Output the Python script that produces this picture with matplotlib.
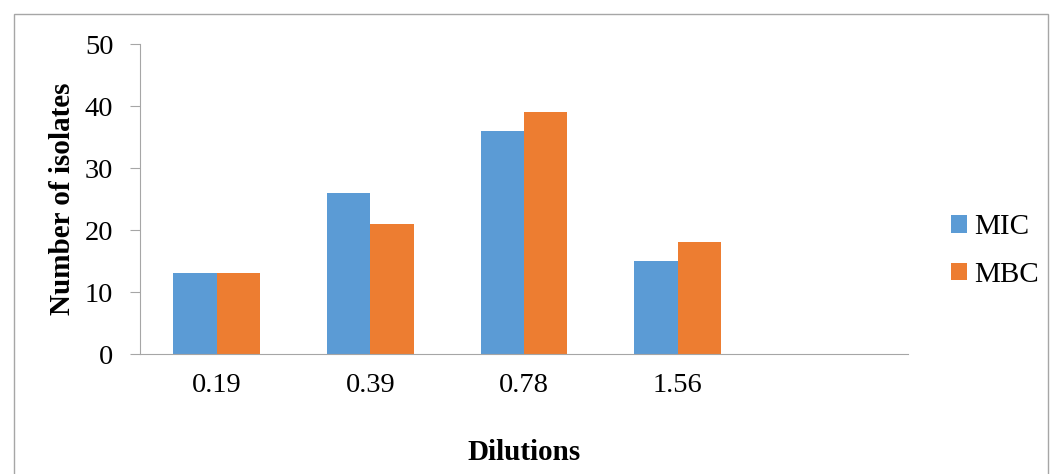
import matplotlib
matplotlib.use('Agg')
import matplotlib.pyplot as plt
import numpy as np
from matplotlib.patches import Rectangle

# data
dilutions = ['0.19', '0.39', '0.78', '1.56', '']
mic = [13, 26, 36, 15, 0]
mbc = [13, 21, 39, 18, 0]

plt.rcParams['font.family'] = ['Liberation Serif', 'DejaVu Serif']

fig = plt.figure(figsize=(10.6, 4.74), dpi=100)
ax = fig.add_axes([140/1060, 1-354/474, (908-140)/1060, (354-44)/474])

x = np.arange(len(dilutions))
w = 0.283
ax.bar(x - w/2, mic, w, color='#5B9BD5', label='MIC')
ax.bar(x + w/2, mbc, w, color='#ED7D31', label='MBC')

ax.set_xlim(-0.5, len(dilutions) - 0.5)
ax.set_ylim(0, 50)
ax.set_yticks(range(0, 51, 10))
ax.set_xticks(x[:4])
ax.set_xticklabels(dilutions[:4])
ax.tick_params(axis='x', length=0, labelsize=20.5, pad=14)
ax.tick_params(axis='y', length=7.2, color='#A6A6A6', labelsize=20.5, pad=12)
for s in ['top', 'right']:
    ax.spines[s].set_visible(False)
ax.spines['left'].set_color('#A6A6A6')
ax.spines['bottom'].set_color('#A6A6A6')

ax.set_ylabel('Number of isolates', fontsize=21, fontweight='bold', labelpad=6)
ax.set_xlabel('Dilutions', fontsize=21, fontweight='bold', labelpad=29)

ax.legend(loc='center left', bbox_to_anchor=(1.056, 0.332), frameon=False,
          fontsize=21, handlelength=0.55, handleheight=0.55, handletextpad=0.25,
          labelspacing=0.75, borderpad=0, borderaxespad=0)

fig.patches.append(Rectangle((14/1060, -0.01), 1034/1060, 1 - 14/474 + 0.01,
                             transform=fig.transFigure, fill=False,
                             edgecolor='#A6A6A6', linewidth=1))

fig.savefig('out.png', dpi=100)
